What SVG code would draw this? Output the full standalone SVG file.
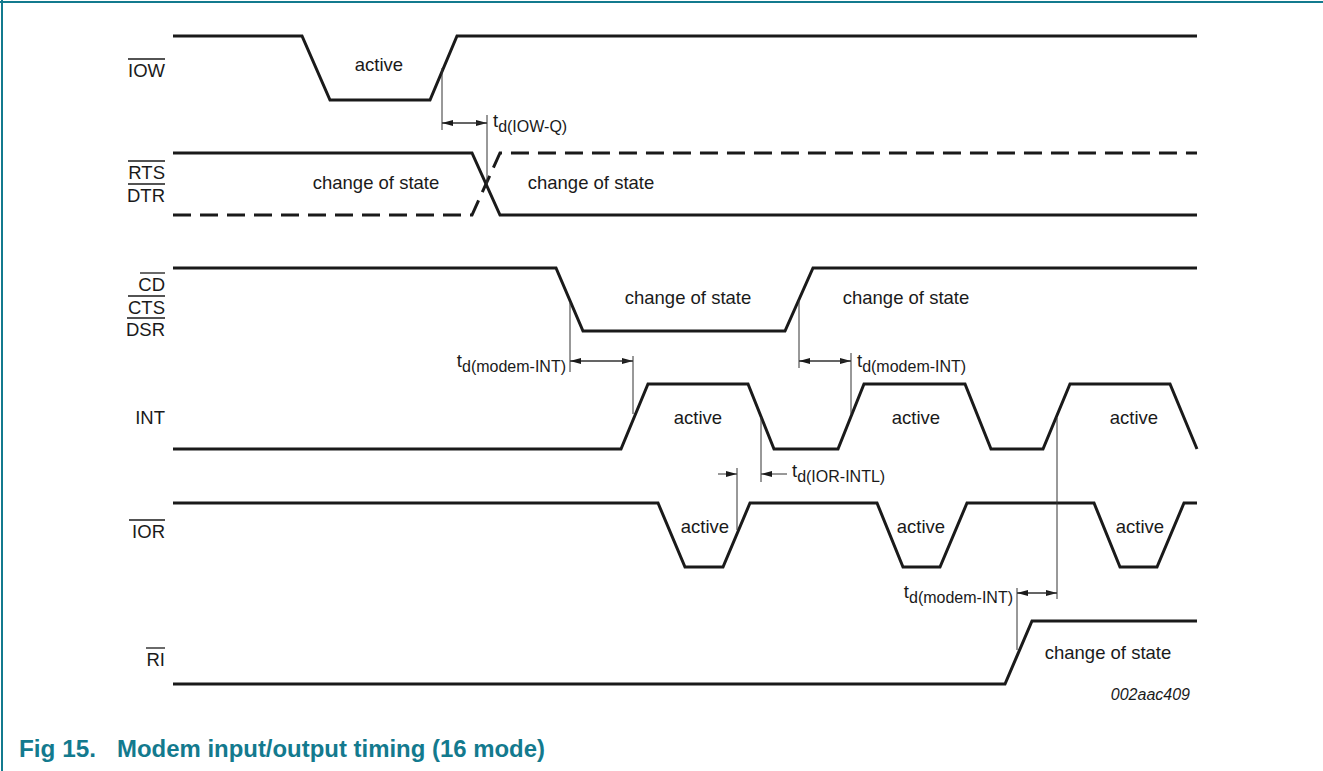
<svg xmlns="http://www.w3.org/2000/svg" width="1323" height="771" viewBox="0 0 1323 771">
<style>
text{font-family:"Liberation Sans",Arial,sans-serif;fill:#1a1a1a}
.lbl{font-size:18.5px}
.sig{font-size:18.5px;text-anchor:end}
.sub{font-size:16px}
.wave{fill:none;stroke:#1a1a1a;stroke-width:3;stroke-linejoin:miter}
.dash{stroke-dasharray:18 9}
.ov{stroke:#1a1a1a;stroke-width:1.3}
.dim{fill:none;stroke:#333;stroke-width:1}
.cap{font-size:23px;font-weight:bold;fill:#137a8e}
</style>
<defs>
<marker id="ah" markerWidth="12" markerHeight="8" refX="11" refY="4" orient="auto" markerUnits="userSpaceOnUse">
<path d="M0,1 L11,4 L0,7 Z" fill="#1a1a1a"/>
</marker>
</defs>
<rect width="1323" height="771" fill="#fff"/>
<g id="frame">
<line x1="0" y1="2" x2="1323" y2="2" stroke="#137a8e" stroke-width="2"/>
<line x1="2" y1="0" x2="2" y2="771" stroke="#137a8e" stroke-width="2"/>
</g>

<g id="sig-IOW">
<text class="sig" x="165" y="77">IOW</text>
<line class="ov" x1="128" y1="59" x2="165" y2="59"/>
<path class="wave" d="M173,36 H302 L330,100 H430 L457,36 H1197"/>
<text class="lbl" x="379" y="71" text-anchor="middle">active</text>
</g>

<g id="sig-RTS-DTR">
<text class="sig" x="165" y="179">RTS</text>
<line class="ov" x1="128" y1="161" x2="165" y2="161"/>
<text class="sig" x="165" y="202">DTR</text>
<line class="ov" x1="128" y1="184" x2="165" y2="184"/>
<path class="wave" d="M173,153 H472 L500,215 H1197"/>
<path class="wave dash" d="M173,215 H472 L500,153 H1197"/>
<text class="lbl" x="376" y="189" text-anchor="middle">change of state</text>
<text class="lbl" x="591" y="189" text-anchor="middle">change of state</text>
</g>

<g id="sig-CD-CTS-DSR">
<text class="sig" x="165" y="291">CD</text>
<line class="ov" x1="140" y1="273" x2="165" y2="273"/>
<text class="sig" x="165" y="314">CTS</text>
<line class="ov" x1="128" y1="296" x2="165" y2="296"/>
<text class="sig" x="165" y="336">DSR</text>
<line class="ov" x1="127" y1="318" x2="165" y2="318"/>
<path class="wave" d="M173,268 H556 L583,331 H785 L813,268 H1197"/>
<text class="lbl" x="688" y="304" text-anchor="middle">change of state</text>
<text class="lbl" x="906" y="304" text-anchor="middle">change of state</text>
</g>

<g id="sig-INT">
<text class="sig" x="165" y="424">INT</text>
<path class="wave" d="M173,449 H621 L648,384 H748 L774,449 H838 L864,384 H965 L991,449 H1043 L1070,384 H1170 L1197,449"/>
<text class="lbl" x="698" y="424" text-anchor="middle">active</text>
<text class="lbl" x="916" y="424" text-anchor="middle">active</text>
<text class="lbl" x="1134" y="424" text-anchor="middle">active</text>
</g>

<g id="sig-IOR">
<text class="sig" x="165" y="538">IOR</text>
<line class="ov" x1="129" y1="520" x2="165" y2="520"/>
<path class="wave" d="M173,503 H658 L685,567 H723 L750,503 H877 L903,567 H940 L967,503 H1094 L1120,567 H1157 L1184,503 H1197"/>
<text class="lbl" x="705" y="533" text-anchor="middle">active</text>
<text class="lbl" x="921" y="533" text-anchor="middle">active</text>
<text class="lbl" x="1140" y="533" text-anchor="middle">active</text>
</g>

<g id="sig-RI">
<text class="sig" x="165" y="666">RI</text>
<line class="ov" x1="146" y1="648" x2="165" y2="648"/>
<path class="wave" d="M173,684 H1005 L1032,621 H1197"/>
<text class="lbl" x="1108" y="659" text-anchor="middle">change of state</text>
</g>

<g id="connectors">
<line class="dim" x1="442" y1="68" x2="442" y2="130"/>
<line class="dim" x1="487" y1="115" x2="487" y2="184"/>
<line class="dim" x1="442" y1="123" x2="487" y2="123" marker-end="url(#ah)"/>
<line class="dim" x1="487" y1="123" x2="442" y2="123" marker-end="url(#ah)"/>
<line class="dim" x1="570" y1="303" x2="570" y2="372"/>
<line class="dim" x1="633" y1="356" x2="633" y2="414"/>
<line class="dim" x1="570" y1="361" x2="633" y2="361" marker-end="url(#ah)"/>
<line class="dim" x1="633" y1="361" x2="570" y2="361" marker-end="url(#ah)"/>
<line class="dim" x1="799" y1="300" x2="799" y2="368"/>
<line class="dim" x1="851" y1="353" x2="851" y2="414"/>
<line class="dim" x1="799" y1="361" x2="851" y2="361" marker-end="url(#ah)"/>
<line class="dim" x1="851" y1="361" x2="799" y2="361" marker-end="url(#ah)"/>
<line class="dim" x1="737" y1="468" x2="737" y2="530"/>
<line class="dim" x1="761" y1="417" x2="761" y2="482"/>
<line class="dim" x1="718" y1="474" x2="737" y2="474" marker-end="url(#ah)"/>
<line class="dim" x1="787" y1="474" x2="761" y2="474" marker-end="url(#ah)"/>
<line class="dim" x1="1057" y1="418" x2="1057" y2="599"/>
<line class="dim" x1="1017" y1="588" x2="1017" y2="650"/>
<line class="dim" x1="1017" y1="593" x2="1057" y2="593" marker-end="url(#ah)"/>
<line class="dim" x1="1057" y1="593" x2="1017" y2="593" marker-end="url(#ah)"/>
</g>

<g id="timing-labels">
<text class="lbl" x="493" y="127">t<tspan class="sub" dy="5">d(IOW-Q)</tspan></text>
<text class="lbl" x="566" y="367" text-anchor="end">t<tspan class="sub" dy="5">d(modem-INT)</tspan></text>
<text class="lbl" x="857" y="367">t<tspan class="sub" dy="5">d(modem-INT)</tspan></text>
<text class="lbl" x="792" y="477">t<tspan class="sub" dy="5">d(IOR-INTL)</tspan></text>
<text class="lbl" x="1013" y="598" text-anchor="end">t<tspan class="sub" dy="5">d(modem-INT)</tspan></text>
</g>

<text x="1190" y="700" text-anchor="end" font-size="16" font-style="italic">002aac409</text>
<g id="caption">
<text class="cap" x="19" y="757" textLength="77" lengthAdjust="spacingAndGlyphs">Fig 15.</text>
<text class="cap" x="117" y="757" textLength="428" lengthAdjust="spacingAndGlyphs">Modem input/output timing (16 mode)</text>
</g>
</svg>
